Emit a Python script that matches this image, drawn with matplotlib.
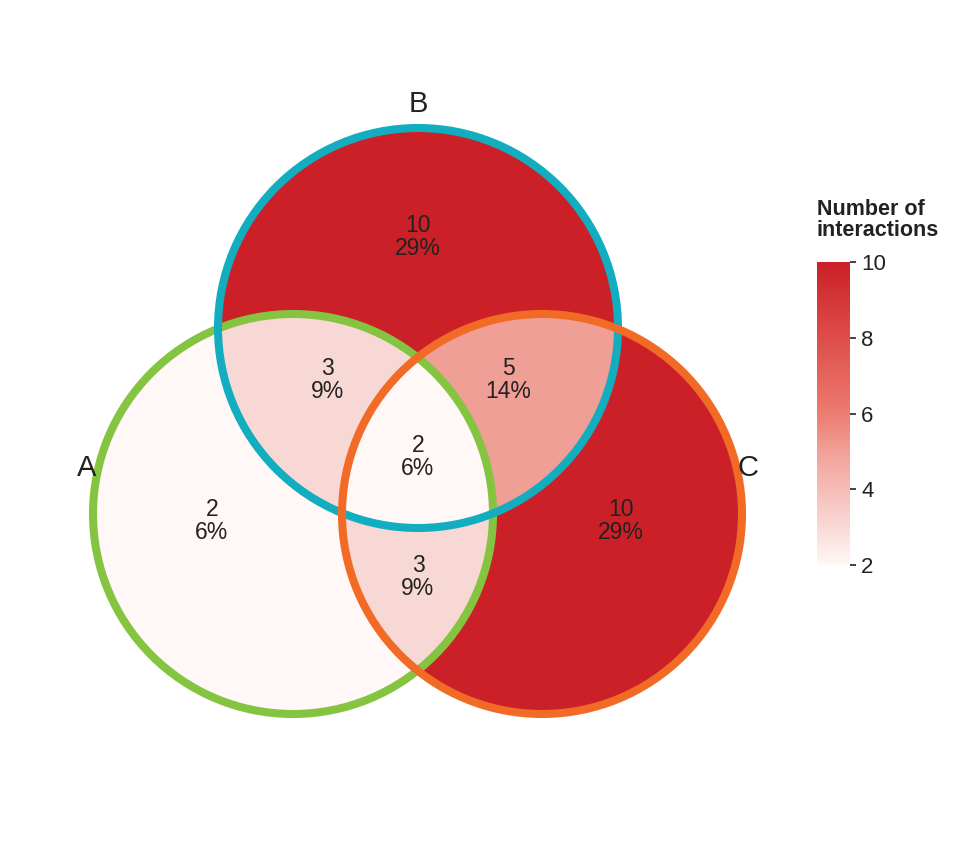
import numpy as np
import matplotlib.pyplot as plt
from matplotlib.colors import LinearSegmentedColormap, Normalize
from matplotlib.patches import Circle
from matplotlib.cm import ScalarMappable

plt.rcParams['font.family'] = ['Liberation Sans', 'DejaVu Sans']

# set names and region counts (membership in A, B, C)
set_names = ["A", "B", "C"]
set_colors = ["#85C441", "#12AEBF", "#F26B26"]
regions = [(1, 0, 0), (0, 1, 0), (0, 0, 1), (1, 1, 0), (0, 1, 1), (1, 0, 1), (1, 1, 1)]
counts = [2, 10, 10, 3, 5, 3, 2]

# layout (figure pixels)
centers = [(293, 514), (418, 328), (542, 514)]
radius = 200
set_label_pos = [(87, 468), (418, 104), (748, 468)]
region_label_pos = [(212, 521), (418, 237), (621, 521), (327, 380),
                    (508, 380), (418, 577), (418, 457)]

cmap = LinearSegmentedColormap.from_list(
    "reds",
    [(0.0, "#FFF8F6"), (0.125, "#F9D9D6"), (0.375, "#F1A097"),
     (0.5, "#EC7C70"), (0.75, "#DE4D4A"), (1.0, "#CB2027")])
norm = Normalize(vmin=2, vmax=10)

fig = plt.figure(figsize=(9.6, 8.42), dpi=100)
ax = fig.add_axes([0, 0, 1, 1])
ax.set_xlim(0, 960)
ax.set_ylim(842, 0)
ax.axis("off")

# fill regions on a grid
xs = np.arange(0, 960) + 0.5
ys = np.arange(0, 842) + 0.5
X, Y = np.meshgrid(xs, ys)
inside = [((X - cx) ** 2 + (Y - cy) ** 2) <= radius ** 2 for cx, cy in centers]
grid = np.full(X.shape, np.nan)
for mem, n in zip(regions, counts):
    m = np.ones(X.shape, bool)
    for k in range(3):
        m &= inside[k] if mem[k] else ~inside[k]
    grid[m] = n
ax.imshow(grid, cmap=cmap, norm=norm, extent=(0, 960, 842, 0),
          interpolation="nearest", zorder=1)

for (cx, cy), col in zip(centers, set_colors):
    ax.add_patch(Circle((cx, cy), radius, fill=False, edgecolor=col, lw=5.8, zorder=2))

total = sum(counts)
for (x, y), n in zip(region_label_pos, counts):
    ax.text(x, y, f"{n}\n{n / total:.0%}", ha="center", va="center",
            fontsize=16.5, color="#222222", linespacing=1.0, zorder=3)

for (x, y), name in zip(set_label_pos, set_names):
    ax.text(x, y, name, ha="center", va="center", fontsize=21, color="#222222", zorder=3)

# colorbar
cax = fig.add_axes([817 / 960, (842 - 565) / 842, 33 / 960, 303 / 842])
cb = fig.colorbar(ScalarMappable(norm=norm, cmap=cmap), cax=cax, ticks=[2, 4, 6, 8, 10])
cb.outline.set_visible(False)
cax.tick_params(labelsize=16, length=4, width=1.2, colors="#222222", pad=4)
fig.text(817 / 960, (842 - 220) / 842, "Number of\ninteractions", ha="left", va="center",
         fontsize=15.5, fontweight="bold", color="#222222", linespacing=1.0)

fig.savefig("out.png", dpi=100, facecolor="white")
